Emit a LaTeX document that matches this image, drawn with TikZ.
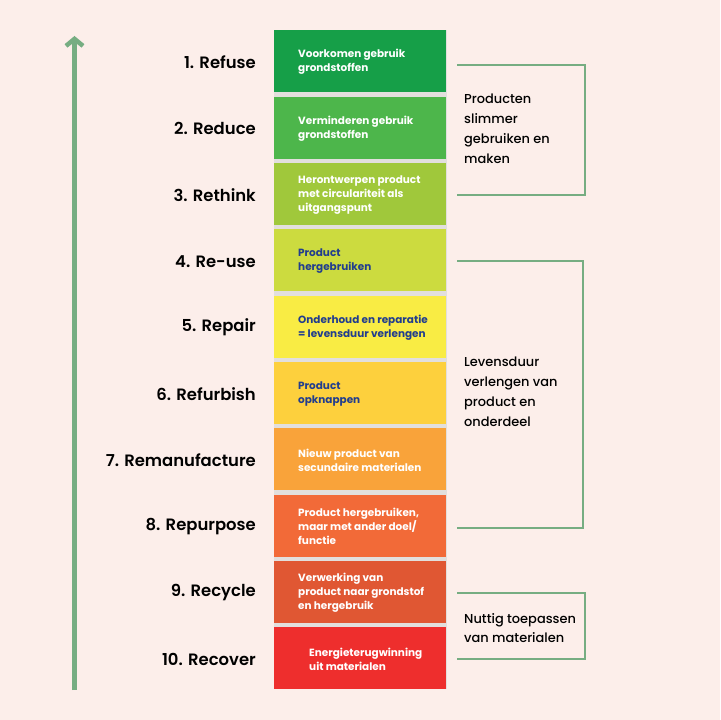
\documentclass[tikz,border=0pt]{standalone}
\usepackage{fontspec}
\setmainfont{Poppins}[BoldFont={Poppins Bold}]
\newfontfamily\rnamefont{Poppins SemiBold}
\newfontfamily\groupfont{Poppins Medium}
\usetikzlibrary{positioning, arrows.meta}

\definecolor{bg}{HTML}{FCEEEA}
\definecolor{sage}{HTML}{76AD82}
\definecolor{gapgrey}{HTML}{E2DFDD}
\definecolor{navy}{HTML}{213D8E}
\definecolor{r1c}{HTML}{169F48}
\definecolor{r2c}{HTML}{4DB64B}
\definecolor{r3c}{HTML}{A0C83B}
\definecolor{r4c}{HTML}{CCDB3F}
\definecolor{r5c}{HTML}{F9EC44}
\definecolor{r6c}{HTML}{FDD03D}
\definecolor{r7c}{HTML}{F9A33A}
\definecolor{r8c}{HTML}{F26A38}
\definecolor{r9c}{HTML}{E05733}
\definecolor{r10c}{HTML}{EE2E2D}

\begin{document}
\begin{tikzpicture}[x=1bp, y=-1bp,
  rung/.style={minimum width=172bp, minimum height=62bp, inner sep=0pt, anchor=north west},
  rungtext/.style={anchor=west, align=left, inner sep=0pt, font=\bfseries\fontsize{10.5}{14}\selectfont},
  rname/.style={font=\rnamefont\fontsize{16.5}{20}\selectfont, inner sep=0pt},
  group/.style={anchor=west, align=left, inner sep=0pt, font=\groupfont\fontsize{13}{20}\selectfont},
  bracket/.style={draw=sage, line width=1.8bp}]

  % page and background
  \fill[bg] (0,0) rectangle (720,720);
  \useasboundingbox (0,0) rectangle (720,720);
  \fill[gapgrey] (274,30) rectangle (446.7,689);

  % the ten rungs of the ladder
  \foreach \i/\name/\tc/\dx/\txt in {
    1/1. Refuse/white/24/{Voorkomen gebruik\\grondstoffen},
    2/2. Reduce/white/24/{Verminderen gebruik\\grondstoffen},
    3/3. Rethink/white/24/{Herontwerpen product\\met circulariteit als\\uitgangspunt},
    4/4. Re-use/navy/24/{Product\\hergebruiken},
    5/5. Repair/navy/24/{Onderhoud en reparatie\\= levensduur verlengen},
    6/6. Refurbish/navy/24/{Product\\opknappen},
    7/7. Remanufacture/white/24/{Nieuw product van\\secundaire materialen},
    8/8. Repurpose/white/24/{Product hergebruiken,\\maar met ander doel/\\functie},
    9/9. Recycle/white/24/{Verwerking van\\product naar grondstof\\en hergebruik},
    10/10. Recover/white/35/{Energieterugwinning\\uit materialen}}
  {
    \node[rung, fill=r\i c] (r\i) at (274,{30+(\i-1)*66.33}) {};
    \node[rungtext, text=\tc] (t\i) at ([xshift=\dx bp, yshift=-1bp]r\i.west) {\txt};
    \node[rname, left=18bp of r\i, yshift=-1bp] (l\i) {\name};
  }

  % arrow along the left side
  \coordinate (arrowfoot) at (74.5,690);
  \coordinate (arrowtip) at (74.5,36);
  \draw[sage, line width=4.5bp, -{Straight Barb[length=7bp, width=17bp]}] (arrowfoot) -- (arrowtip);

  % brackets with group texts
  \coordinate (b1a) at (457,65);
  \coordinate (b1b) at (457,195);
  \coordinate (b2a) at (457,261);
  \coordinate (b2b) at (457,528);
  \coordinate (b3a) at (457,593);
  \coordinate (b3b) at (457,659);
  \draw[bracket] (b1a) -- ++(128,0) |- (b1b);
  \draw[bracket] (b2a) -- ++(126,0) |- (b2b);
  \draw[bracket] (b3a) -- ++(128,0) |- (b3b);

  \node[group] (g1) at (464,129) {Producten\\slimmer\\gebruiken en\\maken};
  \node[group] (g2) at (464,392) {Levensduur\\verlengen van\\product en\\onderdeel};
  \node[group, font=\groupfont\fontsize{13}{19}\selectfont] (g3) at (464,628) {Nuttig toepassen\\van materialen};
\end{tikzpicture}
\end{document}
